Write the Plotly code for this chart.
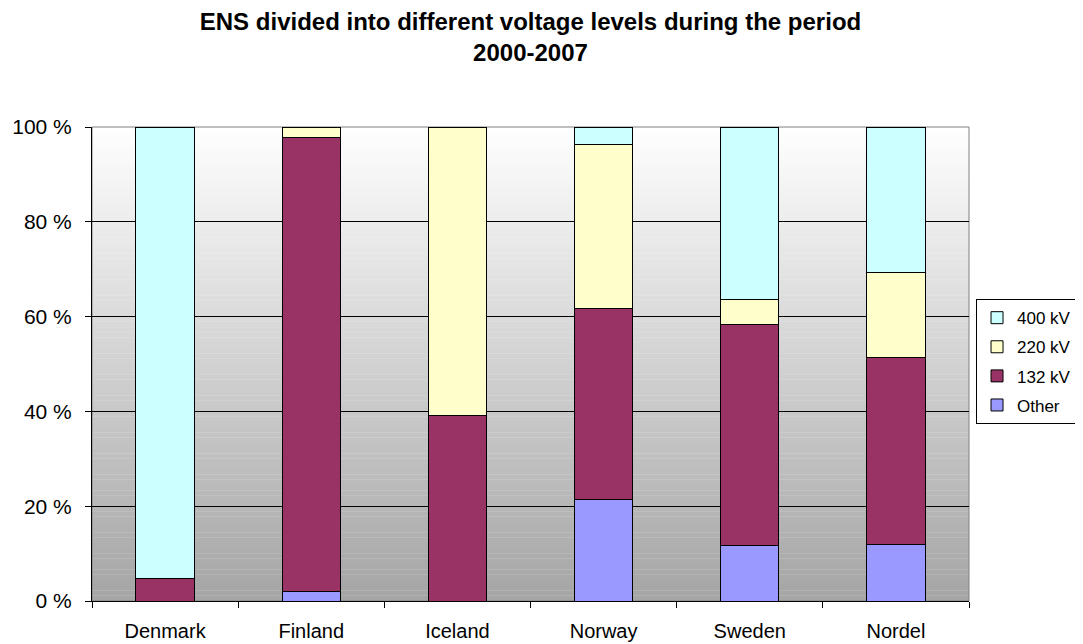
import plotly.graph_objects as go

countries = ["Denmark", "Finland", "Iceland", "Norway", "Sweden", "Nordel"]
other = [0.0, 1.9, 0.0, 21.4, 11.8, 12.0]
kv132 = [4.8, 95.8, 39.1, 40.3, 46.6, 39.3]
kv220 = [0.0, 2.3, 60.9, 34.6, 5.2, 18.0]
kv400 = [95.2, 0.0, 0.0, 3.7, 36.4, 30.7]

series = [
    ("Other", other, "#9999FF", 4),
    ("132 kV", kv132, "#993366", 3),
    ("220 kV", kv220, "#FFFFCC", 2),
    ("400 kV", kv400, "#CCFFFF", 1),
]

FONT = "Liberation Sans, Arial, sans-serif"

fig = go.Figure()
for name, vals, col, rank in series:
    fig.add_trace(go.Bar(
        x=countries, y=vals, name=name, legendgroup=name, legendrank=rank,
        marker=dict(color=col, line=dict(color="black", width=1)),
    ))

# gradient background bands (white top -> grey bottom)
shapes = []
n = 90
for i in range(n):
    t = (i + 0.5) / n  # 0 at bottom, 1 at top
    v = int(round(164 + (255 - 164) * t))
    shapes.append(dict(
        type="rect", xref="x domain", yref="y domain",
        x0=0, x1=1, y0=i / n, y1=(i + 1.05) / n,
        fillcolor=f"rgb({v},{v},{v})", line=dict(width=0), layer="below",
    ))
shapes.append(dict(
    type="rect", xref="x domain", yref="y domain",
    x0=0, x1=1, y0=0, y1=1, line=dict(color="#808080", width=1),
    fillcolor="rgba(0,0,0,0)", layer="below",
))

fig.update_layout(
    width=1083, height=644,
    paper_bgcolor="white", plot_bgcolor="rgba(0,0,0,0)",
    barmode="stack", bargap=0.6,
    margin=dict(l=84, r=122, t=119, b=51),
    font=dict(family=FONT, color="black", size=20),
    title=dict(
        text="<b>ENS divided into different voltage levels during the period<br>2000-2007</b>",
        x=0.5, xref="paper", xanchor="center",
        y=1 - 22 / 644, yref="container", yanchor="middle",
        font=dict(family=FONT, size=24, color="black"),
    ),
    shapes=shapes,
    legend=dict(
        x=1.008, xanchor="left", y=0.505, yanchor="middle",
        bordercolor="black", borderwidth=1, bgcolor="white",
        font=dict(family=FONT, size=17, color="black"),
        traceorder="grouped", tracegroupgap=4,
    ),
    xaxis=dict(
        showline=True, linecolor="black", linewidth=1, automargin=False,
        ticks="outside", tickson="boundaries", ticklen=6, tickcolor="black",
        tickfont=dict(size=20), ticklabelstandoff=12,
        showgrid=False,
    ),
    yaxis=dict(
        range=[0, 100], dtick=20, ticksuffix=" %", automargin=False,
        showline=True, linecolor="black", linewidth=1,
        ticks="outside", ticklen=6, tickcolor="black",
        tickfont=dict(size=21), ticklabelstandoff=9,
        showgrid=True, gridcolor="black", gridwidth=1,
        zeroline=False,
    ),
)

fig.write_html("out.html")
